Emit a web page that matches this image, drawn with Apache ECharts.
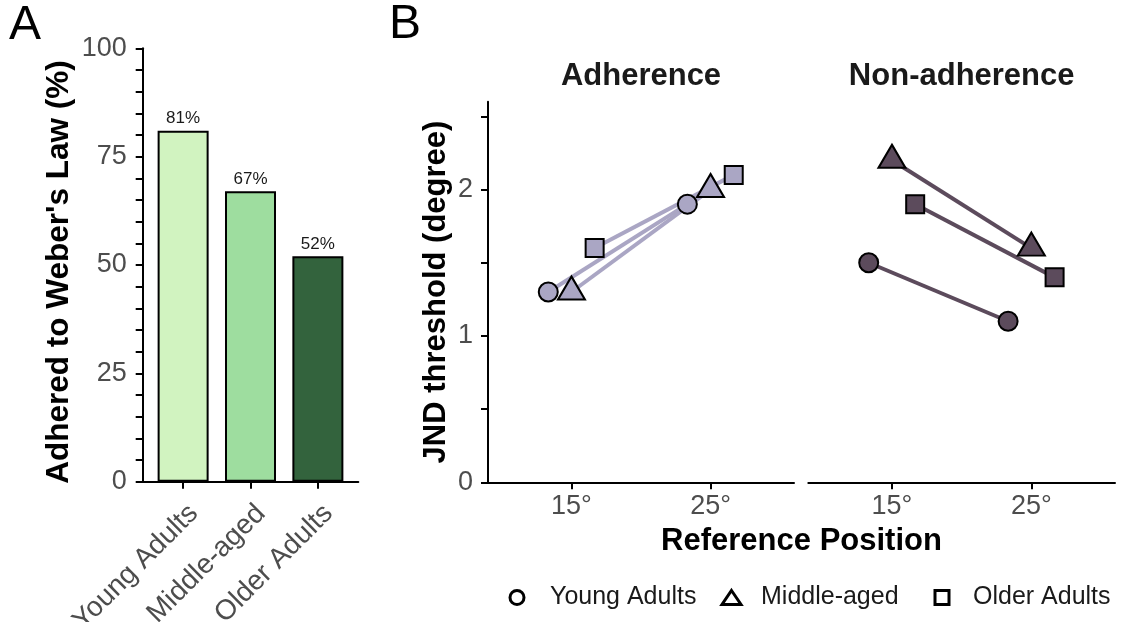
<!DOCTYPE html>
<html><head><meta charset="utf-8">
<script src="https://cdn.jsdelivr.net/npm/echarts@6/dist/echarts.min.js"></script>
<style>html,body{margin:0;padding:0;background:#fff}#c{width:1122px;height:622px}</style>
</head><body><div id="c"></div>
<script>
// ---- data ----
const groups = ['Young Adults', 'Middle-aged', 'Older Adults'];
const adheredPct = [81, 67, 52];
const positions = ['15°', '25°'];
const adhYoung = [1.3, 1.9];
const adhMiddle = [1.3, 2.0];
const adhOlder = [1.6, 2.1];
const nonYoung = [1.5, 1.1];
const nonMiddle = [2.2, 1.6];
const nonOlder = [1.9, 1.4];
const yLabelsA = [0, 25, 50, 75, 100];
const yTicksB = [0, 0.5, 1, 1.5, 2, 2.5];
const yLabelsB = [0, 1, 2];
const facets = ['Adherence', 'Non-adherence'];

// ---- styles ----
const F = '"Liberation Sans", Arial, Helvetica, sans-serif';
const barColors = ['#d1f3c0', '#9edd9f', '#33633d'];
const facetColors = ['#aaa6c4', '#5c4b5c'];
const symbols = ['circle', 'triangle', 'rect'];
const symSizes = [19, [27, 23], 18];
const symOffsets = [[0, 0], [0, -4], [0, 0]];
const dodge = [-0.1667, 0, 0.1667];
const panelData = [[adhYoung, adhMiddle, adhOlder], [nonYoung, nonMiddle, nonOlder]];

const axisLineStyle = { color: '#000', width: 2 };
const tickLabelStyle = { fontFamily: F, fontSize: 27, color: '#4d4d4d' };

const series = [];
series.push({
  type: 'bar', xAxisIndex: 0, yAxisIndex: 0, barWidth: 51,
  data: groups.map((g, i) => ({ value: [i + 1, adheredPct[i]], itemStyle: { color: barColors[i] } })),
  itemStyle: { borderColor: '#000', borderWidth: 2 },
  label: { show: true, position: 'top', distance: 4, formatter: p => p.value[1] + '%', fontFamily: F, fontSize: 17, color: '#1a1a1a' },
  silent: true
});
panelData.forEach((pd, p) => {
  pd.forEach((vals, g) => {
    const pts = positions.map((_, k) => [k + 1 + dodge[g], vals[k]]);
    series.push({
      type: 'line', name: 'line-' + groups[g] + '-' + p, xAxisIndex: p + 1, yAxisIndex: p + 1,
      data: pts, symbol: 'none', lineStyle: { color: facetColors[p], width: 4 }, z: 2, silent: true
    });
  });
});
panelData.forEach((pd, p) => {
  pd.forEach((vals, g) => {
    const pts = positions.map((_, k) => [k + 1 + dodge[g], vals[k]]);
    series.push({
      type: 'scatter', name: groups[g], xAxisIndex: p + 1, yAxisIndex: p + 1,
      data: pts, symbol: symbols[g], symbolSize: symSizes[g], symbolOffset: symOffsets[g],
      itemStyle: { color: facetColors[p], borderColor: '#000', borderWidth: 2, opacity: 1 }, z: 3, silent: true
    });
  });
});

const bGridTop = 101.7, bGridH = 380.6;
const xAxisB = (gi) => ({
  type: 'value', gridIndex: gi, min: 0.4, max: 2.6,
  axisLine: { show: true, lineStyle: axisLineStyle },
  axisTick: { show: true, customValues: [1, 2], length: 7, lineStyle: axisLineStyle },
  axisLabel: Object.assign({ customValues: [1, 2], formatter: v => positions[Math.round(v) - 1], margin: 11 }, tickLabelStyle),
  splitLine: { show: false }
});
const yAxisB = (gi, visible) => ({
  type: 'value', gridIndex: gi, min: 0, max: 2.6,
  axisLine: { show: visible, lineStyle: axisLineStyle },
  axisTick: { show: visible, customValues: yTicksB, length: 7, lineStyle: axisLineStyle },
  axisLabel: Object.assign({ show: visible, customValues: yLabelsB, margin: 15 }, tickLabelStyle),
  splitLine: { show: false },
  name: visible ? 'JND threshold (degree)' : '', nameLocation: 'middle', nameRotate: 90, nameGap: 36,
  nameTextStyle: { fontFamily: F, fontSize: 31, fontWeight: 'bold', color: '#000' }
});

const legendLefts = [508.5, 720.5, 933.5];
const legendW = [14, 19, 14];
const legendPad = [21, 15, 19];
const legendIcons = ['circle', 'triangle', 'rect'];

const option = {
  animation: false,
  backgroundColor: '#fff',
  grid: [
    { left: 142.7, top: 48.3, width: 215.6, height: 433.4, containLabel: false, outerBoundsMode: 'none' },
    { left: 488, top: bGridTop, width: 306, height: bGridH, containLabel: false, outerBoundsMode: 'none' },
    { left: 808.3, top: bGridTop, width: 306.7, height: bGridH, containLabel: false, outerBoundsMode: 'none' }
  ],
  xAxis: [
    {
      type: 'value', gridIndex: 0, min: 0.4, max: 3.6,
      axisLine: { show: true, lineStyle: axisLineStyle },
      axisTick: { show: true, customValues: [1, 2, 3], length: 7, lineStyle: axisLineStyle },
      axisLabel: Object.assign({}, tickLabelStyle, { customValues: [1, 2, 3], formatter: v => groups[Math.round(v) - 1], rotate: 45, align: 'right', verticalAlign: 'top', margin: 12, padding: [4.5, 3.5, 0, 0], fontSize: 28 }),
      splitLine: { show: false }
    },
    xAxisB(1), xAxisB(2)
  ],
  yAxis: [
    {
      type: 'value', gridIndex: 0, min: 0, max: 100, interval: 5,
      axisLine: { show: true, lineStyle: axisLineStyle },
      axisTick: { show: true, length: 7, lineStyle: axisLineStyle },
      axisLabel: Object.assign({ formatter: v => (yLabelsA.indexOf(v) >= 0 ? String(v) : ''), margin: 16 }, tickLabelStyle),
      splitLine: { show: false },
      name: "Adhered to Weber's Law (%)", nameLocation: 'middle', nameRotate: 90, nameGap: 67,
      nameTextStyle: { fontFamily: F, fontSize: 31.5, fontWeight: 'bold', color: '#000', padding: [0, 14, 0, 0] }
    },
    yAxisB(1, true), yAxisB(2, false)
  ],
  legend: groups.map((g, i) => ({
    data: [{ name: g, icon: legendIcons[i], itemStyle: { color: '#fff', borderColor: '#000', borderWidth: 3 } }],
    left: legendLefts[i], top: 585, padding: 0,
    itemWidth: legendW[i], itemHeight: 14, selectedMode: false,
    textStyle: { fontFamily: F, fontSize: 25, color: '#1a1a1a', padding: [0, 0, 0, legendPad[i]] }
  })),
  graphic: [
    { type: 'text', x: 9, y: 26, style: { text: 'A', font: '48px ' + F, fill: '#000', verticalAlign: 'middle' } },
    { type: 'text', x: 389, y: 25, style: { text: 'B', font: '48px ' + F, fill: '#000', verticalAlign: 'middle' } },
    { type: 'text', x: 641, y: 76, style: { text: facets[0], font: 'bold 31px ' + F, fill: '#1a1a1a', align: 'center', verticalAlign: 'middle' } },
    { type: 'text', x: 961.7, y: 76, style: { text: facets[1], font: 'bold 31px ' + F, fill: '#1a1a1a', align: 'center', verticalAlign: 'middle' } },
    { type: 'text', x: 801.5, y: 541, style: { text: 'Reference Position', font: 'bold 31px ' + F, fill: '#000', align: 'center', verticalAlign: 'middle' } }
  ],
  series: series
};
const chart = echarts.init(document.getElementById('c'), null, { renderer: 'canvas' });
chart.setOption(option);
</script>
</body></html>
